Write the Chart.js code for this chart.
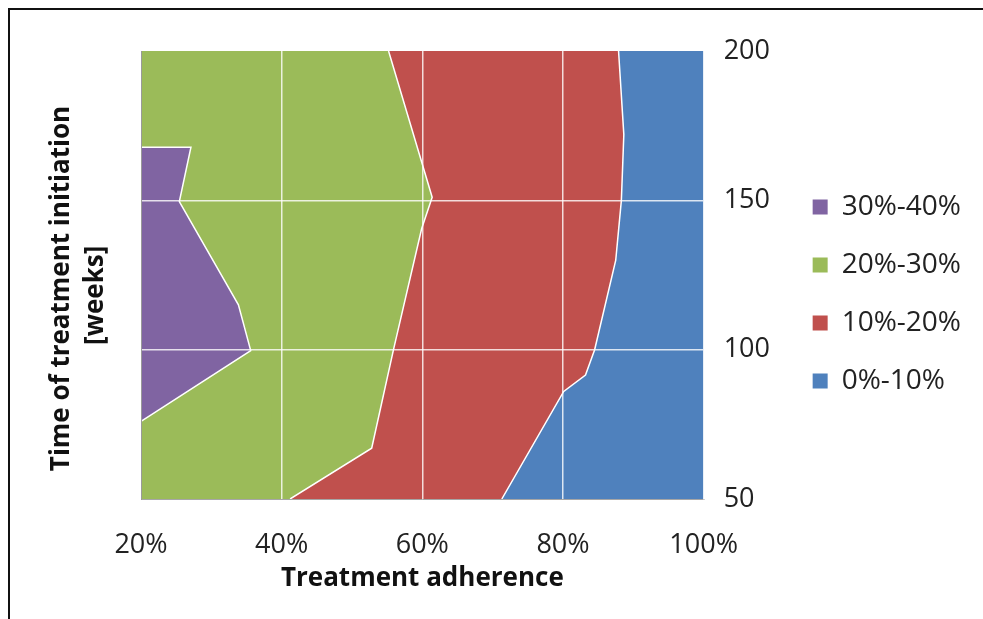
<!DOCTYPE html>
<html>
<head>
<meta charset="utf-8">
<script src="https://cdn.jsdelivr.net/npm/chart.js@4.4.1/dist/chart.umd.min.js"></script>
<style>
  body { margin: 0; background: #fff; }
  #wrap { position: relative; width: 983px; height: 619px; }
  #frame { position: absolute; left: 8px; top: 8px; right: 0; bottom: 0; border-left: 2px solid #111; border-top: 2px solid #111; pointer-events: none; }
</style>
</head>
<body>
<div id="wrap">
  <canvas id="contourChart" width="983" height="619"></canvas>
  <div id="frame"></div>
</div>
<script>
// contour boundaries (adherence %, week), listed top to bottom
const purpleEdgeX = [20, 27.1, 25.45, 33.85, 35.6, 20];
const purpleEdgeY = [167.8, 167.8, 149.6, 115, 99.7, 76];
const greenEdgeX = [55.2, 61.4, 59.9, 55.9, 52.8, 41.2];
const greenEdgeY = [200, 151, 140.5, 100, 67, 50];
const blueEdgeX = [87.9, 88.65, 88.3, 87.5, 84.5, 83.2, 80.1, 71.3];
const blueEdgeY = [200, 172, 150, 130, 100, 91.5, 86, 50];

const bandLabels = ['30%-40%', '20%-30%', '10%-20%', '0%-10%'];
const bandColors = ['#8064A2', '#9BBB59', '#C0504D', '#4F81BD'];
const xTicks = [20, 40, 60, 80, 100];
const yTicks = [50, 100, 150, 200];
const xMin = 20, xMax = 100, yMin = 50, yMax = 200;

function toPoints(xs, ys) {
    return xs.map(function(x, i) { return {x: x, y: ys[i]}; });
}

// closed regions built from the boundaries and the plot corners
const purpleEdge = toPoints(purpleEdgeX, purpleEdgeY);
const greenEdge = toPoints(greenEdgeX, greenEdgeY);
const blueEdge = toPoints(blueEdgeX, blueEdgeY);

const purpleRegion = purpleEdge.slice();
const greenRegion = [{x: xMin, y: yMax}].concat(greenEdge, [{x: xMin, y: yMin}]);
const redRegion = greenEdge.concat(blueEdge.slice().reverse());
const blueRegion = blueEdge.concat([{x: xMax, y: yMin}, {x: xMax, y: yMax}]);

function region(label, data, color) {
    return { label: label, data: data, backgroundColor: color, borderColor: 'rgba(0,0,0,0)', borderWidth: 1, fill: 'shape', pointRadius: 0, tension: 0 };
}
function edge(data) {
    return { label: '', data: data, borderColor: '#ffffff', borderWidth: 1.5, fill: false, pointRadius: 0, tension: 0 };
}

// grid lines sit on top of the coloured areas, edges left to the border
function gridColor(lo, hi) {
    return function(c) {
        return (c.tick && (c.tick.value === lo || c.tick.value === hi)) ? 'rgba(0,0,0,0)' : 'rgba(255,255,255,0.8)';
    };
}

document.addEventListener('DOMContentLoaded', function() {
    const ctx = document.getElementById('contourChart').getContext('2d');
    const contourChart = new Chart(ctx, {
        type: 'line',
        data: {
            datasets: [
                region(bandLabels[0], purpleRegion, bandColors[0]),
                region(bandLabels[1], greenRegion, bandColors[1]),
                region(bandLabels[2], redRegion, bandColors[2]),
                region(bandLabels[3], blueRegion, bandColors[3]),
                edge(purpleEdge),
                edge(greenEdge),
                edge(blueEdge)
            ]
        },
        options: {
            responsive: false,
            animation: false,
            layout: { padding: { top: 51, right: 12, bottom: 0, left: 0 } },
            scales: {
                x: {
                    type: 'linear',
                    min: xMin,
                    max: xMax,
                    afterBuildTicks: function(scale) { scale.ticks = xTicks.map(function(v) { return {value: v}; }); },
                    afterFit: function(scale) { scale.height = 120; },
                    ticks: {
                        autoSkip: false,
                        padding: 30,
                        color: '#222',
                        font: { family: 'Open Sans', size: 27 },
                        callback: function(v) { return v + '%'; }
                    },
                    grid: { z: 1, drawTicks: false, lineWidth: 1.5, color: gridColor(xMin, xMax) },
                    border: { z: 1, color: '#a6a6a6', width: 1 },
                    title: {
                        display: true,
                        text: 'Treatment adherence',
                        color: '#111',
                        font: { family: 'Open Sans', size: 26, weight: 'bold' },
                        padding: { top: 0, bottom: 25 }
                    }
                },
                y: {
                    type: 'linear',
                    position: 'right',
                    min: yMin,
                    max: yMax,
                    afterBuildTicks: function(scale) { scale.ticks = yTicks.map(function(v) { return {value: v}; }); },
                    afterFit: function(scale) { scale.width = 79; },
                    ticks: {
                        padding: 20,
                        color: '#222',
                        font: { family: 'Open Sans', size: 27 }
                    },
                    grid: { z: 1, drawTicks: false, lineWidth: 1.5, color: gridColor(yMin, yMax) },
                    border: { z: 1, color: 'rgba(255,255,255,0.7)', width: 1 }
                },
                yTitle: {
                    type: 'linear',
                    position: 'left',
                    min: yMin,
                    max: yMax,
                    afterFit: function(scale) { scale.width = 141; },
                    ticks: { display: false },
                    grid: { display: false },
                    border: { z: 1, color: '#9a9a9a', width: 1 },
                    title: {
                        display: true,
                        // trailing spaces nudge the rotated lines down a little, like the original
                        text: ['Time of treatment initiation    ', '[weeks]      '],
                        color: '#111',
                        font: { family: 'Open Sans', size: 26, weight: 'bold', lineHeight: 1.3 },
                        padding: { top: 45, bottom: 0 }
                    }
                }
            },
            plugins: {
                filler: { drawTime: 'beforeDatasetsDraw' },
                tooltip: { enabled: false },
                legend: {
                    display: true,
                    position: 'right',
                    align: 'start',
                    maxWidth: 260,
                    title: {
                        display: true,
                        text: ' ',
                        font: { size: 10, lineHeight: 1 },
                        padding: { top: 102, bottom: 0 }
                    },
                    labels: {
                        boxWidth: 15,
                        boxHeight: 15,
                        padding: 30,
                        color: '#222',
                        font: { family: 'Open Sans', size: 28 },
                        filter: function(item) { return item.text !== ''; },
                        generateLabels: function(chart) {
                            const items = Chart.defaults.plugins.legend.labels.generateLabels(chart);
                            items.forEach(function(it) { it.strokeStyle = it.fillStyle; it.lineWidth = 0; });
                            return items;
                        }
                    }
                }
            }
        }
    });
});
</script>
</body>
</html>
